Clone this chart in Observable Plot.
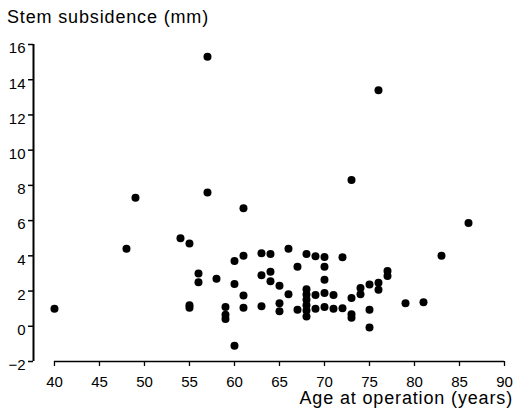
<!DOCTYPE html>
<html><head><meta charset="utf-8">
<script src="https://cdn.jsdelivr.net/npm/d3@7"></script>
<script src="https://cdn.jsdelivr.net/npm/@observablehq/plot@0.6"></script>
<style>
body{margin:0;background:#fff;font-family:"Liberation Sans",Arial,sans-serif;color:#000}
#wrap{width:515px;position:relative}
.title{height:30px;box-sizing:border-box;padding:8px 0 0 7px;font-size:18px;line-height:18px;letter-spacing:0.85px;white-space:nowrap}
.xlabel{height:30px;box-sizing:border-box;padding:0 2px 0 0;margin-top:-1px;text-align:right;font-size:18px;line-height:18px;letter-spacing:0.85px;white-space:nowrap}
svg{display:block}
</style></head>
<body><div id="wrap"><div class="title">Stem subsidence (mm)</div><div id="chart"></div><div class="xlabel">Age at operation (years)</div></div>
<script>
const age = [40,48,49,54,55,55,55,56,56,57,57,58,59,59,59,60,60,60,61,61,61,61,
  63,63,63,64,64,64,65,65,65,66,66,67,67,68,68,68,68,68,68,68,69,69,69,
  70,70,70,70,70,71,71,72,72,73,73,73,73,74,74,75,75,75,76,76,76,77,77,79,81,83,86];
const subsidence = [1.0,4.4,7.3,5.0,4.7,1.2,1.05,3.0,2.5,15.3,7.6,2.7,1.1,0.65,0.42,3.7,2.4,-1.1,6.7,4.0,1.75,1.05,
  4.15,2.9,1.14,4.1,3.1,2.56,2.3,1.31,0.85,4.4,1.82,3.38,0.94,4.1,2.1,1.8,1.5,1.2,0.9,0.55,3.98,1.77,1.0,
  3.93,3.38,2.64,1.89,1.1,1.78,1.0,3.92,1.02,8.3,1.6,0.68,0.48,2.18,1.82,2.37,0.94,-0.07,13.4,2.47,2.08,3.14,2.86,1.31,1.36,4.0,5.87];
const xTicks = [40,45,50,55,60,65,70,75,80,85,90];
const yTicks = [-2,0,2,4,6,8,10,12,14,16];

const data = age.map((a, i) => ({age: a, subsidence: subsidence[i]}));

const chart = Plot.plot({
  width: 515, height: 360,
  marginTop: 14, marginBottom: 29, marginLeft: 33, marginRight: 11,
  style: {fontFamily: "Liberation Sans, Arial, sans-serif", fontSize: "15px", background: "white", color: "black"},
  x: {domain: [37.67, xTicks[xTicks.length - 1]]},
  y: {domain: [yTicks[0], yTicks[yTicks.length - 1]]},
  marks: [
    Plot.ruleX([37.67], {y1: yTicks[0], y2: yTicks[yTicks.length - 1], stroke: "black", strokeWidth: 2}),
    Plot.ruleY([yTicks[0]], {x1: xTicks[0], x2: xTicks[xTicks.length - 1], stroke: "black", strokeWidth: 1.5}),
    Plot.axisY(yTicks, {tickSize: 5, fill: "none", strokeWidth: 1.5, label: null}),
    Plot.axisY(yTicks, {tickSize: 0, tickPadding: 8, dy: 4, label: null}),
    Plot.axisX(xTicks, {tickSize: 5, tickPadding: 10, strokeWidth: 1.3, label: null}),
    Plot.dot(data, {x: "age", y: "subsidence", r: 4, fill: "black"})
  ]
});
document.getElementById("chart").appendChild(chart);
</script>
</body></html>
